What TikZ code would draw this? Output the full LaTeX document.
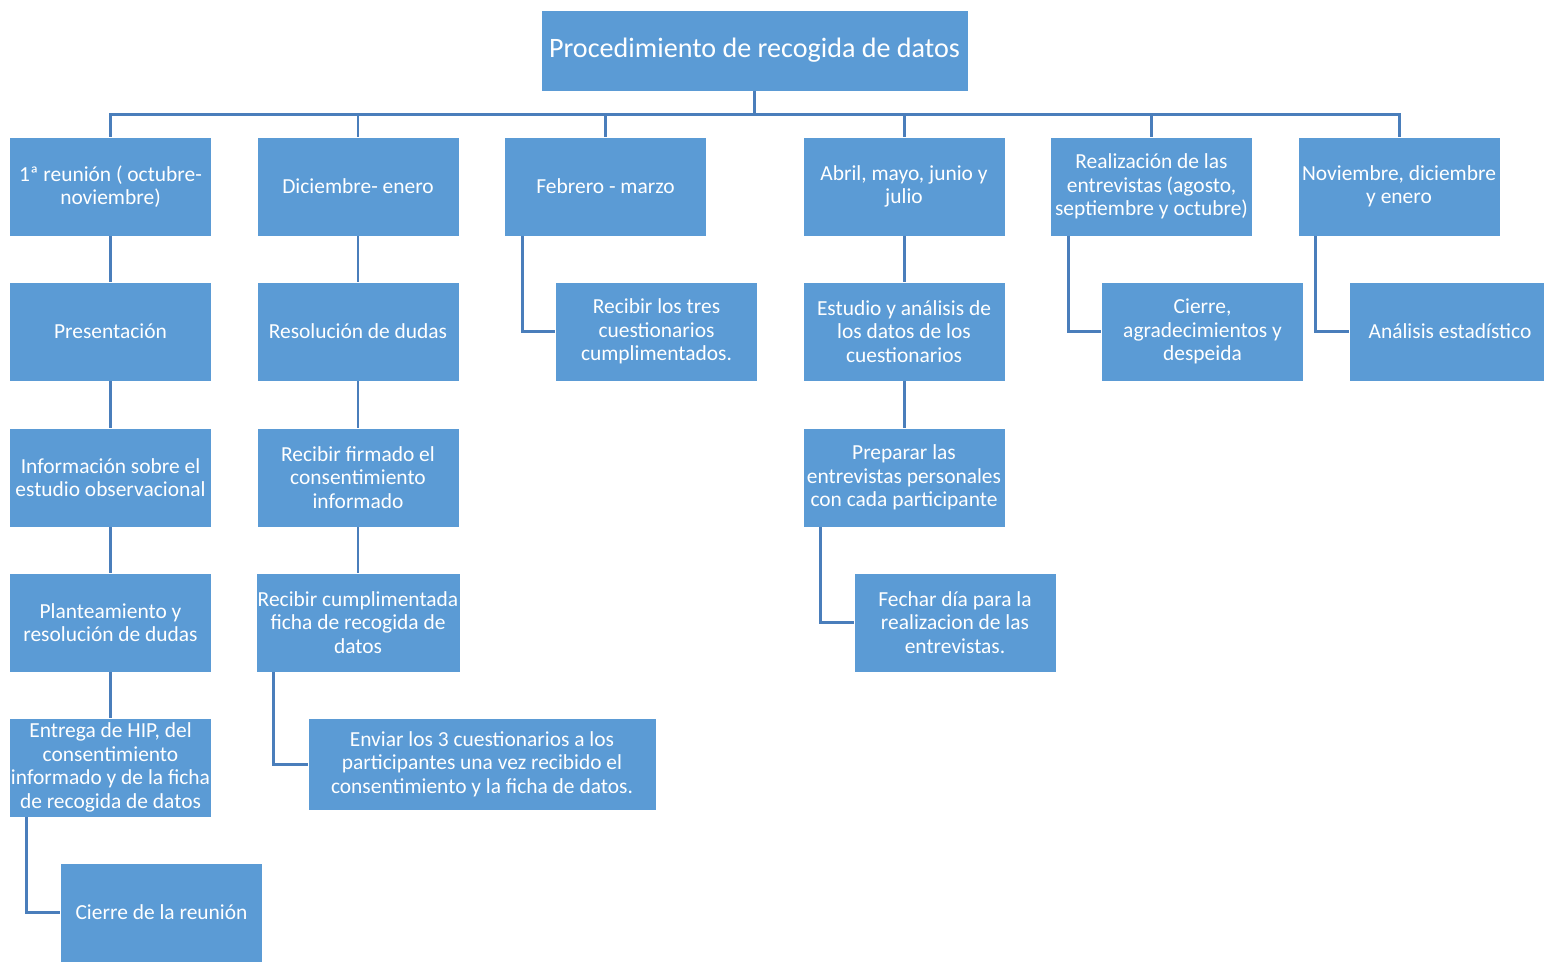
\documentclass[tikz,border=0pt]{standalone}
\usepackage{fontspec}
\setmainfont{Carlito}
\definecolor{boxblue}{HTML}{5B9BD5}
\definecolor{linkblue}{HTML}{4A7EBB}
\tikzset{
  box/.style={draw=white, line width=0.4pt, fill=boxblue, text=white, align=center,
    minimum width=4.04cm, minimum height=1.98cm, inner sep=1pt,
    font=\fontsize{12.2}{13.4}\selectfont},
  link/.style={draw=linkblue, line width=1.7pt},
}

\begin{document}
\begin{tikzpicture}[x=0.02cm,y=-0.02cm]
    \useasboundingbox (0,0) rectangle (1544,961);

    \node[box, minimum width=8.54cm, minimum height=1.62cm,
          font=\fontsize{16}{18}\selectfont] (root) at (754.5,50.5) {Procedimiento de recogida de datos};
    \coordinate (bus) at (754.5,114);

    % first row
    \node[box] (c1) at (110.5,186.5) {1ª reunión ( octubre-\\noviembre)};
    \node[box] (c2) at (358,186.5) {Diciembre- enero};
    \node[box] (c3) at (605.5,186.5) {Febrero - marzo};
    \node[box] (c4) at (904,186.5) {Abril, mayo, junio y\\julio};
    \node[box] (c5) at (1151.5,186.5) {Realización de las\\entrevistas (agosto,\\septiembre y octubre)};
    \node[box] (c6) at (1399,186.5) {Noviembre, diciembre\\y enero};

    % column 1
    \node[box] (a2) at (110.5,331.5) {Presentación};
    \node[box] (a3) at (110.5,477.5) {Información sobre el\\estudio observacional};
    \node[box] (a4) at (110.5,622.5) {Planteamiento y\\resolución de dudas};
    \node[box] (a5) at (110.5,767.5) {Entrega de HIP, del\\consentimiento\\informado y de la ficha\\de recogida de datos};
    \node[box] (a6) at (161.5,912.5) {Cierre de la reunión};

    % column 2
    \node[box] (b2) at (358,331.5) {Resolución de dudas};
    \node[box] (b3) at (358,477.5) {Recibir firmado el\\consentimiento\\informado};
    \node[box] (b4) at (358,622.5) {Recibir cumplimentada\\ficha de recogida de\\datos};
    \node[box, minimum width=6.96cm, minimum height=1.84cm] (b5) at (482,764) {Enviar los 3 cuestionarios a los\\participantes una vez recibido el\\consentimiento y la ficha de datos.};

    % column 3
    \node[box] (d2) at (656.5,331.5) {Recibir los tres\\cuestionarios\\cumplimentados.};

    % column 4
    \node[box] (e2) at (904,331.5) {Estudio y análisis de\\los datos de los\\cuestionarios};
    \node[box] (e3) at (904,477.5) {Preparar las\\entrevistas personales\\con cada participante};
    \node[box] (e4) at (955,622.5) {Fechar día para la\\realizacion de las\\entrevistas.};

    % column 5 and 6
    \node[box] (f2) at (1202.5,331.5) {Cierre,\\agradecimientos y\\despeida};
    \node[box] (g2) at (1450,331.5) {Análisis estadístico};

    % bus
    \draw[link] (root.south) -- (bus);
    \draw[link] (c1.north) -- (c1.north |- bus) -- (c6.north |- bus) -- (c6.north);
    \foreach \c in {c2,c3,c4,c5}
        \draw[link] (\c.north) -- (\c.north |- bus);

    % straight links
    \foreach \u/\v in {c1/a2,a2/a3,a3/a4,a4/a5,c2/b2,b2/b3,b3/b4,c4/e2,e2/e3}
        \draw[link] (\u) -- (\v);

    % side links
    \draw[link] ([xshift=0.36cm]a5.south west) |- (a6.west);
    \draw[link] ([xshift=0.36cm]b4.south west) |- (b5.west);
    \draw[link] ([xshift=0.36cm]c3.south west) |- (d2.west);
    \draw[link] ([xshift=0.36cm]e3.south west) |- (e4.west);
    \draw[link] ([xshift=0.36cm]c5.south west) |- (f2.west);
    \draw[link] ([xshift=0.36cm]c6.south west) |- (g2.west);
\end{tikzpicture}
\end{document}
